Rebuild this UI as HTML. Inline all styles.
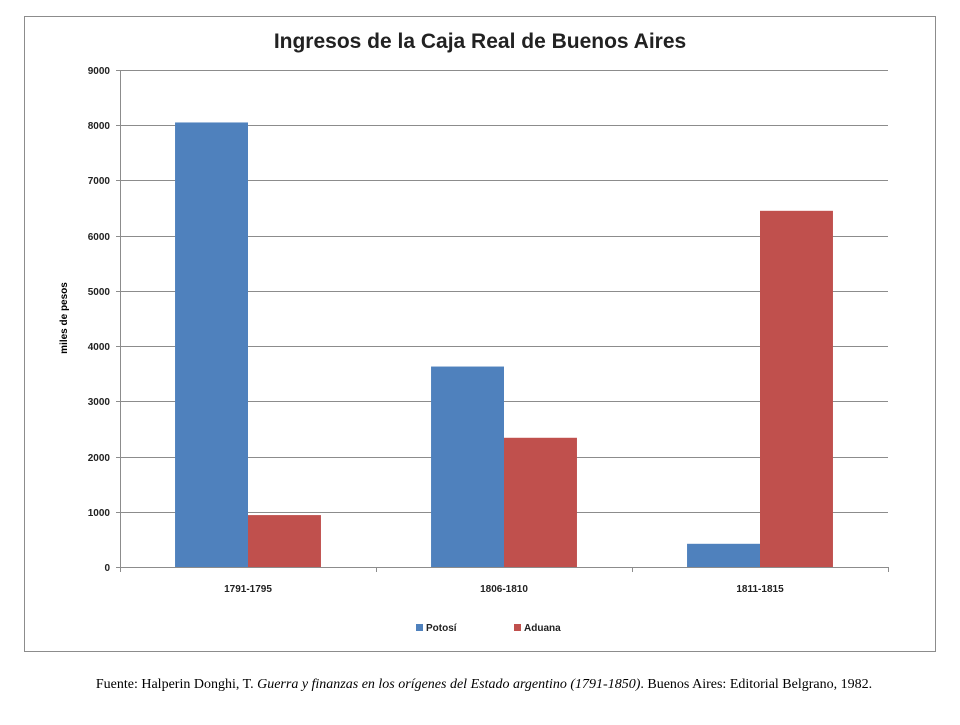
<!DOCTYPE html>
<html><head><meta charset="utf-8"><style>
body{margin:0;background:#fff;width:960px;height:720px;overflow:hidden}
svg text{font-family:"Liberation Sans",sans-serif}
</style></head><body>
<svg width="960" height="720">
<rect x="24.5" y="16.5" width="911" height="635" fill="#fff" stroke="#8c8c8c"/>
<text x="480" y="48" text-anchor="middle" font-size="21" font-weight="bold" fill="#222">Ingresos de la Caja Real de Buenos Aires</text>
<g id="grid"></g><g id="bars"></g><g id="axes"></g>
<text transform="translate(67,318) rotate(-90)" text-anchor="middle" font-size="10" font-weight="bold" fill="#000">miles de pesos</text>
<g>
<rect x="416" y="624" width="7" height="7" fill="#4f81bd"/>
<text x="426" y="631" font-size="10" font-weight="bold" fill="#222">Potosí</text>
<rect x="514" y="624" width="7" height="7" fill="#c0504d"/>
<text x="524" y="631" font-size="10" font-weight="bold" fill="#222">Aduana</text>
</g>
<text x="484" y="688" text-anchor="middle" font-size="14" font-family="Liberation Serif" fill="#000" style="font-family:'Liberation Serif',serif">Fuente: Halperin Donghi, T. <tspan font-style="italic">Guerra y finanzas en los orígenes del Estado argentino (1791-1850)</tspan>. Buenos Aires: Editorial Belgrano, 1982.</text>
</svg>
<script>
const categories=["1791-1795","1806-1810","1811-1815"];
const potosi=[8050,3630,420];
const aduana=[940,2340,6450];
const yTicks=[0,1000,2000,3000,4000,5000,6000,7000,8000,9000];
const NS="http://www.w3.org/2000/svg";
const X0=120,X1=888,Y0=567,Y1=70,YMAX=9000;
const y=v=>Y0-(Y0-Y1)*v/YMAX;
const bw=(X1-X0)/categories.length;
function mk(tag,attrs,parent){const e=document.createElementNS(NS,tag);for(const k in attrs)e.setAttribute(k,attrs[k]);document.getElementById(parent).appendChild(e);return e;}
yTicks.forEach(t=>{
 const yy=Math.round(y(t))+0.5;
 if(t>0){const l=mk('line',{x1:X0,x2:X1,y1:yy,y2:yy,stroke:'#8c8c8c'},'grid');
 
 }
 const tk=mk('line',{x1:X0-4,x2:X0,y1:yy,y2:yy,stroke:'#8c8c8c'},'axes');
 
 
 const tx=mk('text',{x:X0-10,y:yy+3.5,'text-anchor':'end','font-size':10,'font-weight':'bold',fill:'#222'},'axes');
 tx.textContent=t;
 
 
});
const series=[[potosi,'#4f81bd','potosi'],[aduana,'#c0504d','aduana']];
const barW=bw*0.285;
categories.forEach((c,i)=>{
 const cx=X0+bw*(i+0.5);
 series.forEach((s,j)=>{
  const v=s[0][i];
  const r=mk('rect',{x:cx-barW+j*barW,y:y(v),width:barW,height:Y0-y(v),fill:s[1]},'bars');
  
  
 });
 const lb=mk('text',{x:cx,y:Y0+25,'text-anchor':'middle','font-size':10,'font-weight':'bold',fill:'#222'},'axes');
 lb.textContent=c;
 
 
});
for(let i=0;i<=categories.length;i++){
 const xx=Math.round(X0+bw*i)+0.5;
 const t=mk('line',{x1:xx,x2:xx,y1:Y0,y2:Y0+5,stroke:'#8c8c8c'},'axes');
 
 
}
const xa=mk('line',{x1:X0,x2:X1,y1:Y0+0.5,y2:Y0+0.5,stroke:'#8c8c8c'},'axes');


const ya=mk('line',{x1:X0+0.5,x2:X0+0.5,y1:Y1,y2:Y0,stroke:'#8c8c8c'},'axes');


</script>
</body></html>
